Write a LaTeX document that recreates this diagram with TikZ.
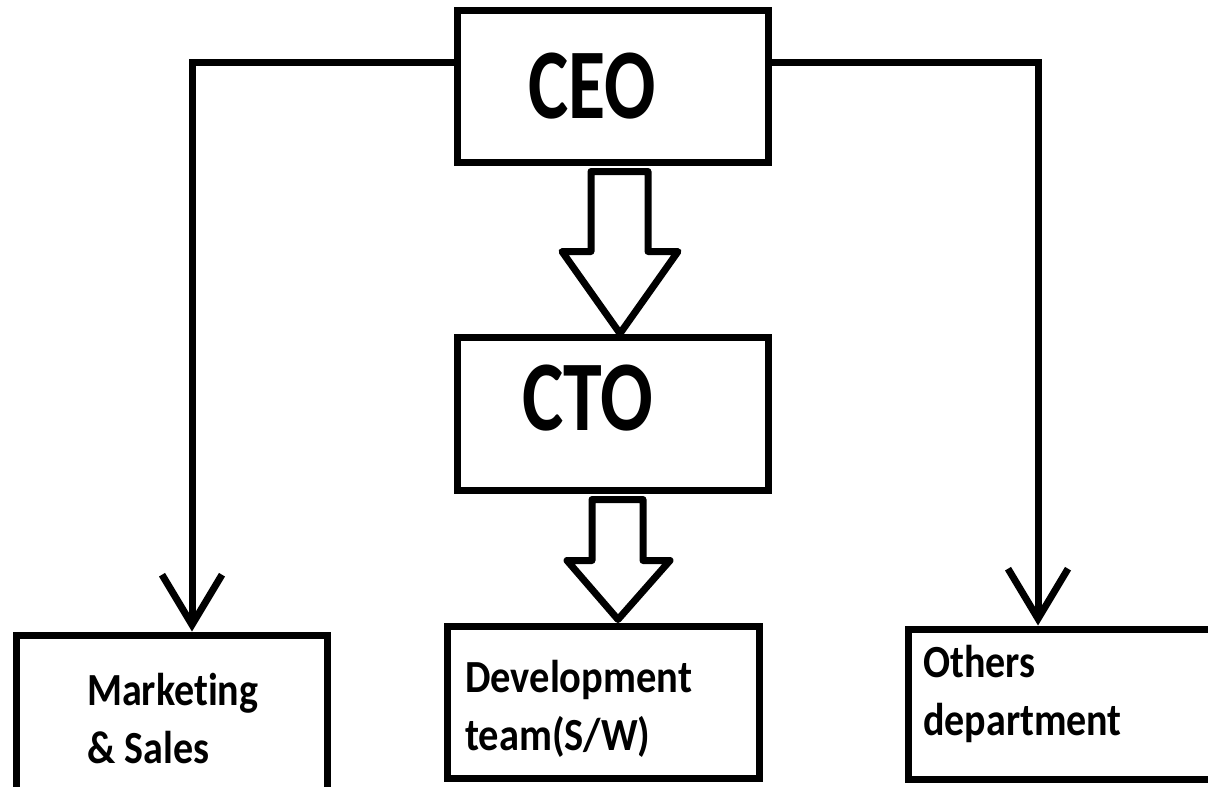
\documentclass[tikz,border=0pt]{standalone}
\usepackage{fontspec}
\setmainfont{Carlito}[Ligatures={NoCommon}]
\usetikzlibrary{arrows.meta,calc}
\begin{document}
\begin{tikzpicture}[x=1pt,y=-1pt,
  box/.style={draw=black,line width=7pt,fill=white,rectangle,inner sep=0pt},
  bigtxt/.style={anchor=base west,inner sep=0pt,font=\bfseries\fontsize{100}{100}\selectfont},
  smalltxt/.style={anchor=base west,inner sep=0pt,align=left,font=\bfseries\fontsize{46}{58}\selectfont},
  conn/.style={line width=7pt,-{Straight Barb[length=50pt,width=60pt]}},
  hollow/.style={line width=7pt,fill=white,line join=round}]
\useasboundingbox (0,0) rectangle (1208,787);
\clip (0,0) rectangle (1208,787);
\fill[white] (0,0) rectangle (1208,787);
% boxes
\node[box,minimum width=311pt,minimum height=152pt] (ceo) at (612.5,86) {};
\node[box,minimum width=311pt,minimum height=153pt] (cto) at (612.5,413.5) {};
\node[box,minimum width=311pt,minimum height=157pt] (mkt) at (171.5,713.5) {};
\node[box,minimum width=312pt,minimum height=152pt] (dev) at (603,702) {};
\node[box,minimum width=307pt,minimum height=150pt] (oth) at (1061.5,704) {};
% texts
\node[bigtxt] (ceot) at (528,118) {\scalebox{0.76}[1]{CEO}};
\node[bigtxt] (ctot) at (522,430) {\scalebox{0.78}[1]{CTO}};
\node[smalltxt] (mktt) at (87,763) {\scalebox{0.87}[1]{Marketing}\\\scalebox{0.87}[1]{\& Sales}};
\node[smalltxt] (devt) at (465,750) {\scalebox{0.88}[1]{Development}\\\scalebox{0.88}[1]{team(S/W)}};
\node[smalltxt] (otht) at (923,735) {\scalebox{0.87}[1]{Others}\\\scalebox{0.87}[1]{department}};
% side connectors
\draw[conn] (ceo.west |- 0,62) -| (192,0 |- mkt.north);
\draw[conn] (ceo.east |- 0,62) -| (1038,0 |- oth.north);
% hollow arrows
\draw[hollow] ([xshift=-21.5pt,yshift=-6pt]ceo.south) -- ++(0,80) -- ++(-29,0)
  -- ++(58,82) -- ++(58,-82) -- ++(-30,0) -- ++(0,-80) -- cycle;
\draw[hollow] ([xshift=-20.5pt,yshift=-6pt]cto.south) -- ++(0,61) -- ++(-25,0)
  -- ++(51,59) -- ++(52,-59) -- ++(-27,0) -- ++(0,-61) -- cycle;
\end{tikzpicture}
\end{document}
